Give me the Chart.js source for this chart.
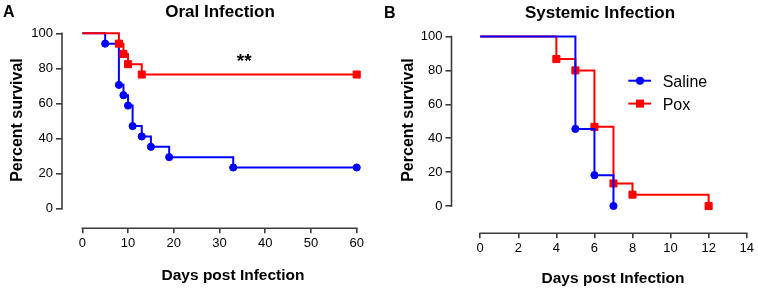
<!DOCTYPE html>
<html><head><meta charset="utf-8">
<script src="https://cdn.jsdelivr.net/npm/chart.js@4.4.1/dist/chart.umd.min.js"></script>
<style>
html,body{margin:0;padding:0;background:#fff;width:758px;height:288px;overflow:hidden}
.p{position:absolute;top:0;width:379px;height:288px}
canvas{display:block}
</style></head><body>
<div class="p" style="left:0"><canvas id="cA" width="379" height="288"></canvas></div>
<div class="p" style="left:379px"><canvas id="cB" width="379" height="288"></canvas></div>
<script>
// ---- data ----
const seriesNames = ['Saline', 'Pox'];
const oralSalineDays = [0, 5, 8, 9, 10, 11, 13, 15, 19, 33, 60];
const oralSaline     = [100, 94.1, 70.6, 64.7, 58.8, 47.1, 41.2, 35.3, 29.4, 23.5, 23.5];
const oralPoxDays    = [0, 8, 9, 10, 13, 60];
const oralPox        = [100, 94.1, 88.2, 82.4, 76.5, 76.5];
const sysSalineDays  = [0, 5, 6, 7];
const sysSaline      = [100, 45.5, 18.2, 0];
const sysPoxDays     = [0, 4, 5, 6, 7, 8, 12];
const sysPox         = [100, 86.7, 80, 46.7, 13.3, 6.7, 0];
const oralXTicks = [0, 10, 20, 30, 40, 50, 60];
const sysXTicks  = [0, 2, 4, 6, 8, 10, 12, 14];
const yTicks     = [0, 20, 40, 60, 80, 100];
const oralSignif = '**';

// ---- styles ----
const BLUE = '#0000ff', RED = '#ff0000', AXIS = '#3c3c3c';
const FONT = "'Liberation Sans', Arial, Helvetica, sans-serif";

function pts(xs, ys) { return xs.map((d, i) => ({x: d, y: ys[i]})); }

function series(name, xs, ys, color, style, order) {
  return {
    label: name, data: pts(xs, ys), stepped: true,
    borderColor: color, backgroundColor: color, borderWidth: 2,
    pointStyle: style,
    pointRadius: c => c.dataIndex === 0 ? 0 : (style === 'rect' ? 5 : 3.6),
    pointBorderWidth: 1, pointBackgroundColor: color, pointBorderColor: color,
    clip: false, order: order, fill: false
  };
}

const axisLines = {
  id: 'axisLines',
  beforeDatasetsDraw(chart) {
    const {ctx, chartArea, scales: {x, y}} = chart;
    ctx.save();
    ctx.strokeStyle = AXIS; ctx.lineWidth = 1.6;
    ctx.beginPath();
    ctx.moveTo(chartArea.left, y.getPixelForValue(yTicks[0]) + 0.8);
    ctx.lineTo(chartArea.left, y.getPixelForValue(yTicks[yTicks.length - 1]) - 0.8);
    const xt = x.ticks;
    ctx.moveTo(x.getPixelForValue(xt[0].value) - 0.8, chartArea.bottom);
    ctx.lineTo(x.getPixelForValue(xt[xt.length - 1].value) + 0.8, chartArea.bottom);
    ctx.stroke();
    ctx.restore();
  }
};

function textPlugin(items) {
  return {
    id: 'texts',
    afterDraw(chart) {
      const ctx = chart.ctx;
      items.forEach(it => {
        ctx.save();
        ctx.font = it.font; ctx.fillStyle = '#000';
        ctx.textAlign = it.align || 'center';
        ctx.textBaseline = 'alphabetic';
        let x = it.x, y = it.y;
        if (it.dx !== undefined) x = chart.scales.x.getPixelForValue(it.dx);
        if (it.dy !== undefined) y = chart.scales.y.getPixelForValue(it.dy);
        ctx.translate(x, y);
        if (it.rot) ctx.rotate(it.rot);
        ctx.fillText(it.text, 0, 0);
        ctx.restore();
      });
    }
  };
}

const legendPlugin = {
  id: 'kmLegend',
  afterDraw(chart) {
    const ctx = chart.ctx;
    const rows = [{y: 80.7, base: 86.7}, {y: 103.6, base: 110}];
    chart.data.datasets.forEach((ds, i) => {
      const r = rows[i];
      ctx.save();
      ctx.strokeStyle = ds.borderColor; ctx.fillStyle = ds.borderColor; ctx.lineWidth = 2;
      ctx.beginPath(); ctx.moveTo(249.3, r.y); ctx.lineTo(272, r.y); ctx.stroke();
      if (ds.pointStyle === 'rect') { ctx.fillRect(261 - 4, r.y - 4, 8, 8); }
      else { ctx.beginPath(); ctx.arc(261, r.y, 4, 0, Math.PI * 2); ctx.fill(); }
      ctx.fillStyle = '#000'; ctx.font = '16px ' + FONT; ctx.textAlign = 'left'; ctx.textBaseline = 'alphabetic';
      ctx.fillText(ds.label, 283.7, r.base);
      ctx.restore();
    });
  }
};

function makeOptions(cfg) {
  return {
    responsive: false, animation: false, devicePixelRatio: 1,
    layout: {padding: {top: cfg.top, right: cfg.right, left: 0, bottom: 0}},
    plugins: {legend: {display: false}, title: {display: false}, tooltip: {enabled: false}},
    events: [],
    scales: {
      x: {
        type: 'linear', min: cfg.xMin, max: cfg.xTicks[cfg.xTicks.length - 1],
        afterBuildTicks: s => { s.ticks = cfg.xTicks.map(v => ({value: v})); },
        afterFit: s => { s.height = cfg.xH; },
        grid: {display: true, drawOnChartArea: false, drawTicks: true, tickLength: 5, color: AXIS, lineWidth: 1.6},
        border: {display: false},
        ticks: {color: '#000', font: {family: FONT, size: 13}, padding: 2, maxRotation: 0, autoSkip: false}
      },
      y: {
        type: 'linear', min: cfg.yMin, max: yTicks[yTicks.length - 1],
        afterBuildTicks: s => { s.ticks = yTicks.map(v => ({value: v})); },
        afterFit: s => { s.width = cfg.yW; },
        grid: {display: true, drawOnChartArea: false, drawTicks: true, tickLength: 6, color: AXIS, lineWidth: 1.6},
        border: {display: false},
        ticks: {color: '#000', font: {family: FONT, size: 13}, padding: 3, autoSkip: false}
      }
    }
  };
}

new Chart(document.getElementById('cA'), {
  type: 'line',
  data: {datasets: [
    series(seriesNames[0], oralSalineDays, oralSaline, BLUE, 'circle', 2),
    series(seriesNames[1], oralPoxDays, oralPox, RED, 'rect', 1)
  ]},
  options: makeOptions({top: 33.3, right: 22.3, xMin: -4.44, yMin: -11.17, xH: 59.7, yW: 62, xTicks: oralXTicks}),
  plugins: [axisLines, textPlugin([
    {text: 'A', font: 'bold 16px ' + FONT, x: 3, y: 17, align: 'left'},
    {text: 'Oral Infection', font: 'bold 17px ' + FONT, x: 220, y: 16.7},
    {text: 'Days post Infection', font: 'bold 15.5px ' + FONT, x: 233, y: 280},
    {text: 'Percent survival', font: 'bold 16px ' + FONT, x: 21.7, y: 120, rot: -Math.PI / 2},
    {text: oralSignif, font: 'bold 19px ' + FONT, dx: 35.4, dy: 80.8}
  ])]
});

new Chart(document.getElementById('cB'), {
  type: 'line',
  data: {datasets: [
    series(seriesNames[0], sysSalineDays, sysSaline, BLUE, 'circle', 1),
    series(seriesNames[1], sysPoxDays, sysPox, RED, 'rect', 2)
  ]},
  options: makeOptions({top: 36.5, right: 11.3, xMin: -1.51, yMin: -16.1, xH: 54.7, yW: 72.5, xTicks: sysXTicks}),
  plugins: [axisLines, legendPlugin, textPlugin([
    {text: 'B', font: 'bold 16px ' + FONT, x: 5, y: 18.3, align: 'left'},
    {text: 'Systemic Infection', font: 'bold 17px ' + FONT, x: 221, y: 18.3},
    {text: 'Days post Infection', font: 'bold 15.5px ' + FONT, x: 234, y: 283},
    {text: 'Percent survival', font: 'bold 16px ' + FONT, x: 34.3, y: 120, rot: -Math.PI / 2}
  ])]
});
</script>
</body></html>
